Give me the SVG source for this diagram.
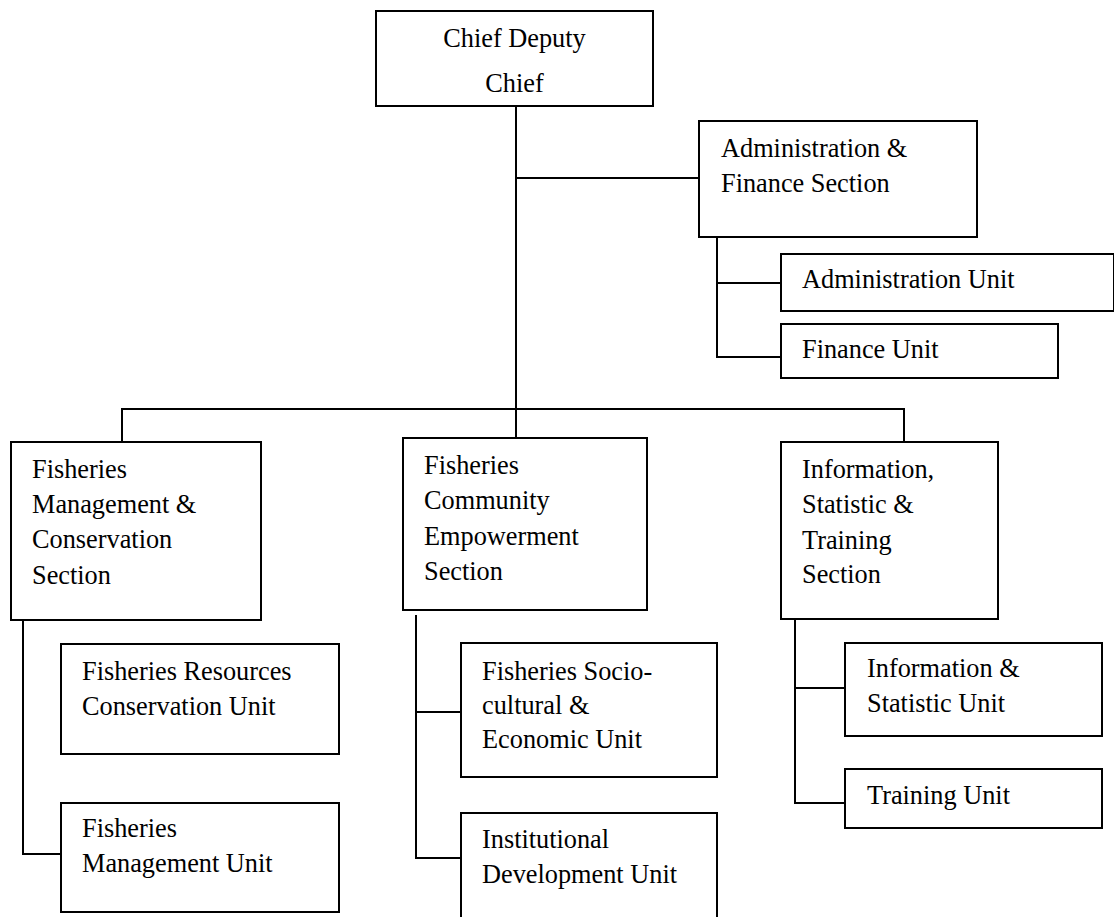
<svg xmlns="http://www.w3.org/2000/svg" width="1114" height="917" viewBox="0 0 1114 917">
<style>
.b{fill:#fff;stroke:#000;stroke-width:2}
.c line,.c polyline{stroke:#000;stroke-width:2;fill:none}
text{font-family:"Liberation Serif","Times New Roman",serif;font-size:26.3px;fill:#000}
.m{text-anchor:middle}
</style>
<rect width="1114" height="917" fill="#fff"/>
<g class="c" id="connectors">
<line x1="516" y1="106" x2="516" y2="409"/>
<line x1="516" y1="178" x2="699" y2="178"/>
<polyline points="122,442 122,409 904,409 904,442"/>
<line x1="516" y1="409" x2="516" y2="438"/>
<polyline points="717,237 717,357 781,357"/>
<line x1="717" y1="283" x2="781" y2="283"/>
<polyline points="23,620 23,854 61,854"/>
<polyline points="416,615 416,858 461,858"/>
<line x1="416" y1="712" x2="461" y2="712"/>
<polyline points="795,619 795,803 845,803"/>
<line x1="795" y1="688" x2="845" y2="688"/>
</g>
<g id="chief"><rect class="b" x="376" y="11" width="277" height="95"/>
<text class="m" x="514.5" y="47">Chief Deputy</text><text class="m" x="514.5" y="92">Chief</text></g>
<g id="admin-section"><rect class="b" x="699" y="121" width="278" height="116"/>
<text x="721" y="157">Administration &amp;</text><text x="721" y="192">Finance Section</text></g>
<g id="admin-unit"><rect class="b" x="781" y="254" width="333" height="57"/>
<text x="802" y="288">Administration Unit</text></g>
<g id="finance-unit"><rect class="b" x="781" y="324" width="277" height="54"/>
<text x="802" y="358">Finance Unit</text></g>
<g id="fmc-section"><rect class="b" x="11" y="442" width="250" height="178"/>
<text x="32" y="478">Fisheries</text><text x="32" y="513">Management &amp;</text><text x="32" y="548">Conservation</text><text x="32" y="584">Section</text></g>
<g id="fce-section"><rect class="b" x="403" y="438" width="244" height="172"/>
<text x="424" y="474">Fisheries</text><text x="424" y="509">Community</text><text x="424" y="545">Empowerment</text><text x="424" y="580">Section</text></g>
<g id="ist-section"><rect class="b" x="781" y="442" width="217" height="177"/>
<text x="802" y="478">Information,</text><text x="802" y="513">Statistic &amp;</text><text x="802" y="549">Training</text><text x="802" y="583">Section</text></g>
<g id="frc-unit"><rect class="b" x="61" y="644" width="278" height="110"/>
<text x="82" y="680">Fisheries Resources</text><text x="82" y="715">Conservation Unit</text></g>
<g id="fm-unit"><rect class="b" x="61" y="803" width="278" height="109"/>
<text x="82" y="837">Fisheries</text><text x="82" y="872">Management Unit</text></g>
<g id="fsce-unit"><rect class="b" x="461" y="643" width="256" height="134"/>
<text x="482" y="680">Fisheries Socio-</text><text x="482" y="714">cultural &amp;</text><text x="482" y="748">Economic Unit</text></g>
<g id="id-unit"><rect class="b" x="461" y="813" width="256" height="112"/>
<text x="482" y="848">Institutional</text><text x="482" y="883">Development Unit</text></g>
<g id="is-unit"><rect class="b" x="845" y="643" width="257" height="93"/>
<text x="867" y="677">Information &amp;</text><text x="867" y="712">Statistic Unit</text></g>
<g id="training-unit"><rect class="b" x="845" y="769" width="257" height="59"/>
<text x="867" y="804">Training Unit</text></g>
</svg>
